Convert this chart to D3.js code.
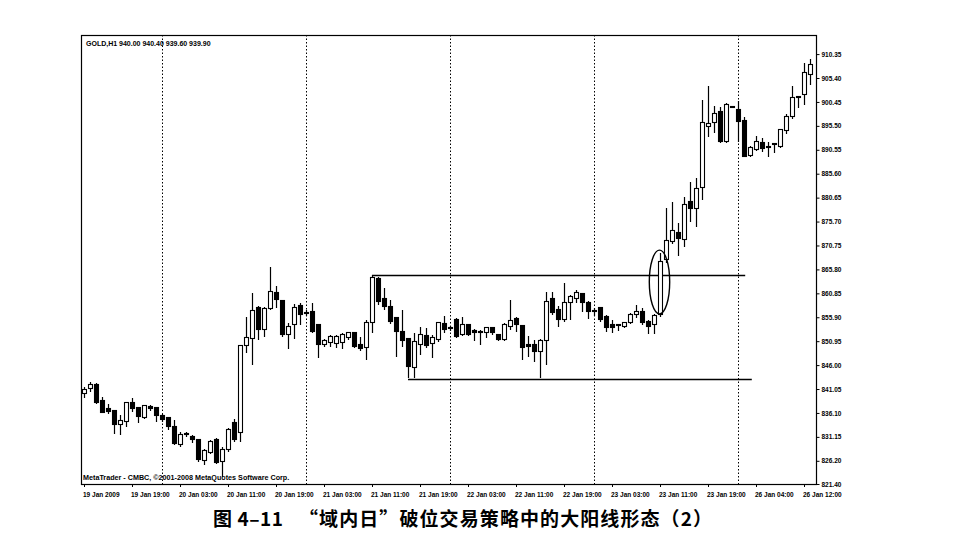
<!DOCTYPE html>
<html><head><meta charset="utf-8">
<script src="https://cdn.jsdelivr.net/npm/d3@7/dist/d3.min.js"></script>
<style>body{margin:0;background:#fff;} svg{display:block;}</style>
</head><body>
<svg id="c" width="978" height="551"></svg>
<script>
// ---- data (bar index 0 = first bar of 20 Jan) ----
const barStart = -13;
const opens  = [840.0,841.1,841.9,838.6,836.9,836.5,833.6,834.2,838.2,837.1,835.1,837.3,837.1,
 835.5,835.1,833.2,829.5,831.6,831.1,830.5,826.2,827.8,830.5,826.0,828.4,834.0,831.9,850.0,851.4,857.8,853.3,857.6,860.9,859.3,852.2,854.3,858.2,
 856.8,857.0,854.3,850.2,850.6,850.4,850.6,851.6,852.7,850.2,849.5,854.7,863.8,859.7,858.0,855.7,852.9,851.4,845.4,850.2,852.0,850.4,851.2,854.5,
 853.7,855.3,852.2,854.3,853.1,852.9,852.7,853.7,852.2,851.2,853.9,855.5,854.1,850.2,850.2,848.7,851.0,859.7,857.4,855.3,858.9,859.7,860.7,858.9,
 857.1,857.8,856.0,854.3,854.2,853.9,854.7,856.4,857.0,854.9,854.3,856.4,867.8,871.5,873.4,871.9,879.8,878.3,882.7,895.3,896.1,898.4,892.2,899.4,
 898.8,896.5,889.3,890.5,892.0,891.2,891.8,891.2,894.5,897.4,901.5,901.9,906.1];
const highs  = [841.5,842.5,842.3,839.4,838.0,836.7,835.7,838.4,839.2,837.3,837.7,837.7,837.3,
 835.9,835.3,834.6,832.2,832.2,831.5,830.7,828.6,830.5,830.9,829.1,833.0,834.9,850.2,856.0,860.9,858.2,858.0,866.3,862.4,859.5,854.7,858.7,858.9,
 857.4,858.9,854.5,851.4,852.2,852.2,852.7,852.9,852.9,851.8,855.3,864.7,864.2,862.0,859.5,856.0,857.4,851.6,852.7,853.9,853.7,852.2,854.9,856.2,
 854.1,855.7,856.0,854.5,853.5,853.3,853.9,853.9,852.4,854.7,859.5,856.0,854.3,852.0,851.2,851.4,861.1,861.1,858.2,863.0,860.5,861.5,860.9,859.3,
 857.8,858.0,856.4,855.3,854.3,854.9,856.8,858.5,857.8,855.3,856.6,869.2,878.5,879.8,875.4,880.8,883.9,884.7,900.9,903.8,899.6,899.4,900.3,899.5,
 900.7,897.4,891.4,893.4,893.0,892.2,891.9,894.9,898.0,903.8,901.6,908.5,909.4];
const lows   = [839.2,840.4,838.0,836.0,835.9,831.8,831.5,833.2,836.3,834.0,834.9,836.5,834.2,
 834.2,832.6,829.5,829.1,831.1,829.9,826.0,825.3,827.6,825.5,822.9,828.0,830.1,830.1,848.5,846.0,851.2,851.8,857.4,857.8,851.8,849.3,851.4,854.3,
 856.2,852.7,847.5,849.8,849.8,849.5,849.3,851.2,849.5,848.9,847.1,852.7,858.4,857.4,854.5,847.7,849.8,843.3,843.3,848.1,849.5,847.5,850.8,852.7,
 853.1,851.6,852.0,852.0,851.0,850.2,851.6,852.2,851.0,851.0,853.3,852.9,847.1,847.7,846.7,843.3,846.0,856.4,853.9,854.9,855.3,858.9,857.0,855.5,
 856.2,854.9,852.9,852.7,853.1,853.7,854.5,855.8,854.3,852.4,852.4,856.0,867.1,871.1,868.6,870.5,875.6,874.6,880.2,893.2,894.1,892.0,892.0,899.2,
 892.2,889.0,889.1,890.3,890.1,889.1,889.9,891.0,893.8,896.9,899.2,899.8,904.0];
const closes = [840.9,841.9,838.2,836.1,836.3,833.6,834.4,838.2,836.9,835.3,837.5,837.0,835.5,
 834.6,833.2,829.7,831.5,831.8,830.5,826.4,828.2,830.1,825.7,828.4,832.6,830.5,850.0,851.6,857.2,853.3,857.6,861.1,859.5,852.2,853.9,857.8,856.4,
 856.7,852.9,850.2,851.0,851.8,851.8,852.2,852.7,849.8,849.3,854.7,864.0,859.1,858.0,854.9,852.9,851.0,845.6,850.8,852.2,850.0,851.6,854.7,853.3,
 853.5,851.8,854.3,852.2,852.7,852.8,853.7,852.7,851.2,854.3,855.1,854.3,849.5,849.8,848.7,851.0,859.1,856.8,855.3,858.9,860.1,860.9,858.9,857.0,
 857.0,855.3,853.7,853.7,854.1,854.7,856.4,857.0,854.7,853.9,856.2,867.4,871.7,873.8,872.1,879.2,878.3,882.5,896.1,895.9,898.0,892.2,899.9,899.3,
 896.3,889.1,890.9,892.2,890.7,891.1,891.7,894.7,897.4,901.3,901.4,906.5,908.1];

const separatorBars = [0, 24, 48, 72, 96];
const xTickBars   = [-13, -5, 3, 11, 19, 27, 35, 43, 51, 59, 67, 75, 83, 91, 99, 107];
const xTickLabels = ['19 Jan 2009','19 Jan 19:00','20 Jan 03:00','20 Jan 11:00','20 Jan 19:00',
  '21 Jan 03:00','21 Jan 11:00','21 Jan 19:00','22 Jan 03:00','22 Jan 11:00','22 Jan 19:00',
  '23 Jan 03:00','23 Jan 11:00','23 Jan 19:00','26 Jan 04:00','26 Jan 12:00'];
const yTickValues = [910.35,905.40,900.45,895.50,890.55,885.60,880.65,875.70,870.75,865.80,
  860.85,855.90,850.95,846.00,841.05,836.10,831.15,826.20,821.40];

// range lines (bar from, bar to, price)
const rangeLineFrom  = [35, 41];
const rangeLineTo    = [97.2, 98.3];
const rangeLinePrice = [864.66, 843.13];
// ellipse around the breakout bar
const ellipseBar = 83, ellipseTop = 869.8, ellipseBottom = 856.6, ellipseHalfBars = 1.7;

const headerText = 'GOLD,H1  940.00 940.40 939.60 939.90';
const footerText = 'MetaTrader - CMBC, ©2001-2008 MetaQuotes Software Corp.';
const titleLeft  = '图 4–11';
const titleRight = '“域内日”破位交易策略中的大阳线形态（2）';

// ---- drawing ----
const L = 81, R = 817, T = 35, B = 484;
const svg = d3.select('#c');
const x = d3.scaleLinear().domain([-13, 108]).range([84, 810]);
const y = d3.scaleLinear().domain([821.4, 914.3]).range([B, T]);
const px = v => Math.round(x(v)) + 0.5;

const bars = opens.map((o, i) => ({k: barStart + i, o, h: highs[i], l: lows[i], c: closes[i]}));

const clipId = 'plotclip';
svg.append('clipPath').attr('id', clipId).append('rect')
  .attr('x', L).attr('y', T).attr('width', R - L).attr('height', B - T);

const plot = svg.append('g').attr('clip-path', `url(#${clipId})`);

// separators
plot.selectAll('line.sep').data(separatorBars).join('line')
  .attr('x1', d => px(d)).attr('x2', d => px(d))
  .attr('y1', T).attr('y2', B)
  .attr('stroke', '#000').attr('stroke-width', 1).attr('stroke-dasharray', '1.5,2');

// range lines
plot.selectAll('line.rng').data(rangeLinePrice).join('line')
  .attr('x1', (d, i) => x(rangeLineFrom[i])).attr('x2', (d, i) => x(rangeLineTo[i]))
  .attr('y1', d => Math.round(y(d)) + 0.5).attr('y2', d => Math.round(y(d)) + 0.5)
  .attr('stroke', '#000').attr('stroke-width', 1.3);

// candles
const g = plot.selectAll('g.bar').data(bars).join('g');
g.append('line')
  .attr('x1', d => px(d.k)).attr('x2', d => px(d.k))
  .attr('y1', d => Math.round(y(d.h))).attr('y2', d => Math.round(y(d.l)))
  .attr('stroke', '#000').attr('stroke-width', 1.2);
g.append('rect')
  .attr('x', d => px(d.k) - 2).attr('width', 4)
  .attr('y', d => Math.round(y(Math.max(d.o, d.c))) - 0.5)
  .attr('height', d => Math.max(1, Math.round(y(Math.min(d.o, d.c))) - Math.round(y(Math.max(d.o, d.c)))))
  .attr('fill', d => d.c >= d.o ? '#fff' : '#000')
  .attr('stroke', '#000').attr('stroke-width', 1.1);

// ellipse
plot.append('ellipse')
  .attr('cx', x(ellipseBar) - 0.5)
  .attr('cy', (y(ellipseTop) + y(ellipseBottom)) / 2)
  .attr('rx', x(ellipseBar + ellipseHalfBars) - x(ellipseBar))
  .attr('ry', (y(ellipseBottom) - y(ellipseTop)) / 2)
  .attr('fill', 'none').attr('stroke', '#000').attr('stroke-width', 1.4);

// frame
svg.append('rect').attr('x', L + 0.5).attr('y', T + 0.5).attr('width', R - L - 1).attr('height', B - T)
  .attr('fill', 'none').attr('stroke', '#000').attr('stroke-width', 1.2);

// y axis (right)
const yAxis = d3.axisRight(y).tickValues(yTickValues).tickFormat(d => d.toFixed(2)).tickSize(3).tickPadding(2);
const ya = svg.append('g').attr('transform', `translate(${R - 0.5},0)`).call(yAxis);
ya.select('.domain').remove();
ya.selectAll('text').attr('font-family', 'Liberation Sans, Arial, sans-serif')
  .attr('font-size', 6.5).attr('font-weight', 'bold').attr('fill', '#000');
ya.selectAll('line').attr('stroke', '#000');

// x axis labels
const xa = svg.append('g');
xa.selectAll('line').data(xTickBars).join('line')
  .attr('x1', d => px(d)).attr('x2', d => px(d)).attr('y1', B).attr('y2', B + 3)
  .attr('stroke', '#000');
xa.selectAll('text').data(xTickLabels).join('text')
  .attr('x', (d, i) => x(xTickBars[i]) - 1).attr('y', 497)
  .attr('font-family', 'Liberation Sans, Arial, sans-serif')
  .attr('font-size', 6.5).attr('font-weight', 'bold').attr('fill', '#000')
  .text(d => d);

// header & footer inside plot
svg.append('text').attr('x', 86).attr('y', 46)
  .attr('font-family', 'Liberation Sans, Arial, sans-serif').attr('font-size', 7).attr('font-weight', 'bold')
  .text(headerText);
svg.append('text').attr('x', 83).attr('y', 480)
  .attr('font-family', 'Liberation Sans, Arial, sans-serif').attr('font-size', 7.2).attr('font-weight', 'bold')
  .text(footerText);

// title
svg.append('text').attr('x', 213).attr('y', 526)
  .attr('font-family', 'Noto Sans CJK SC, sans-serif').attr('font-size', 19).attr('font-weight', 'bold')
  .attr('textLength', 70).attr('lengthAdjust', 'spacing')
  .text(titleLeft);
svg.append('text').attr('x', 299).attr('y', 526)
  .attr('font-family', 'Noto Sans CJK SC, sans-serif').attr('font-size', 19).attr('font-weight', 'bold')
  .attr('textLength', 413).attr('lengthAdjust', 'spacing')
  .text(titleRight);
</script>
</body></html>
